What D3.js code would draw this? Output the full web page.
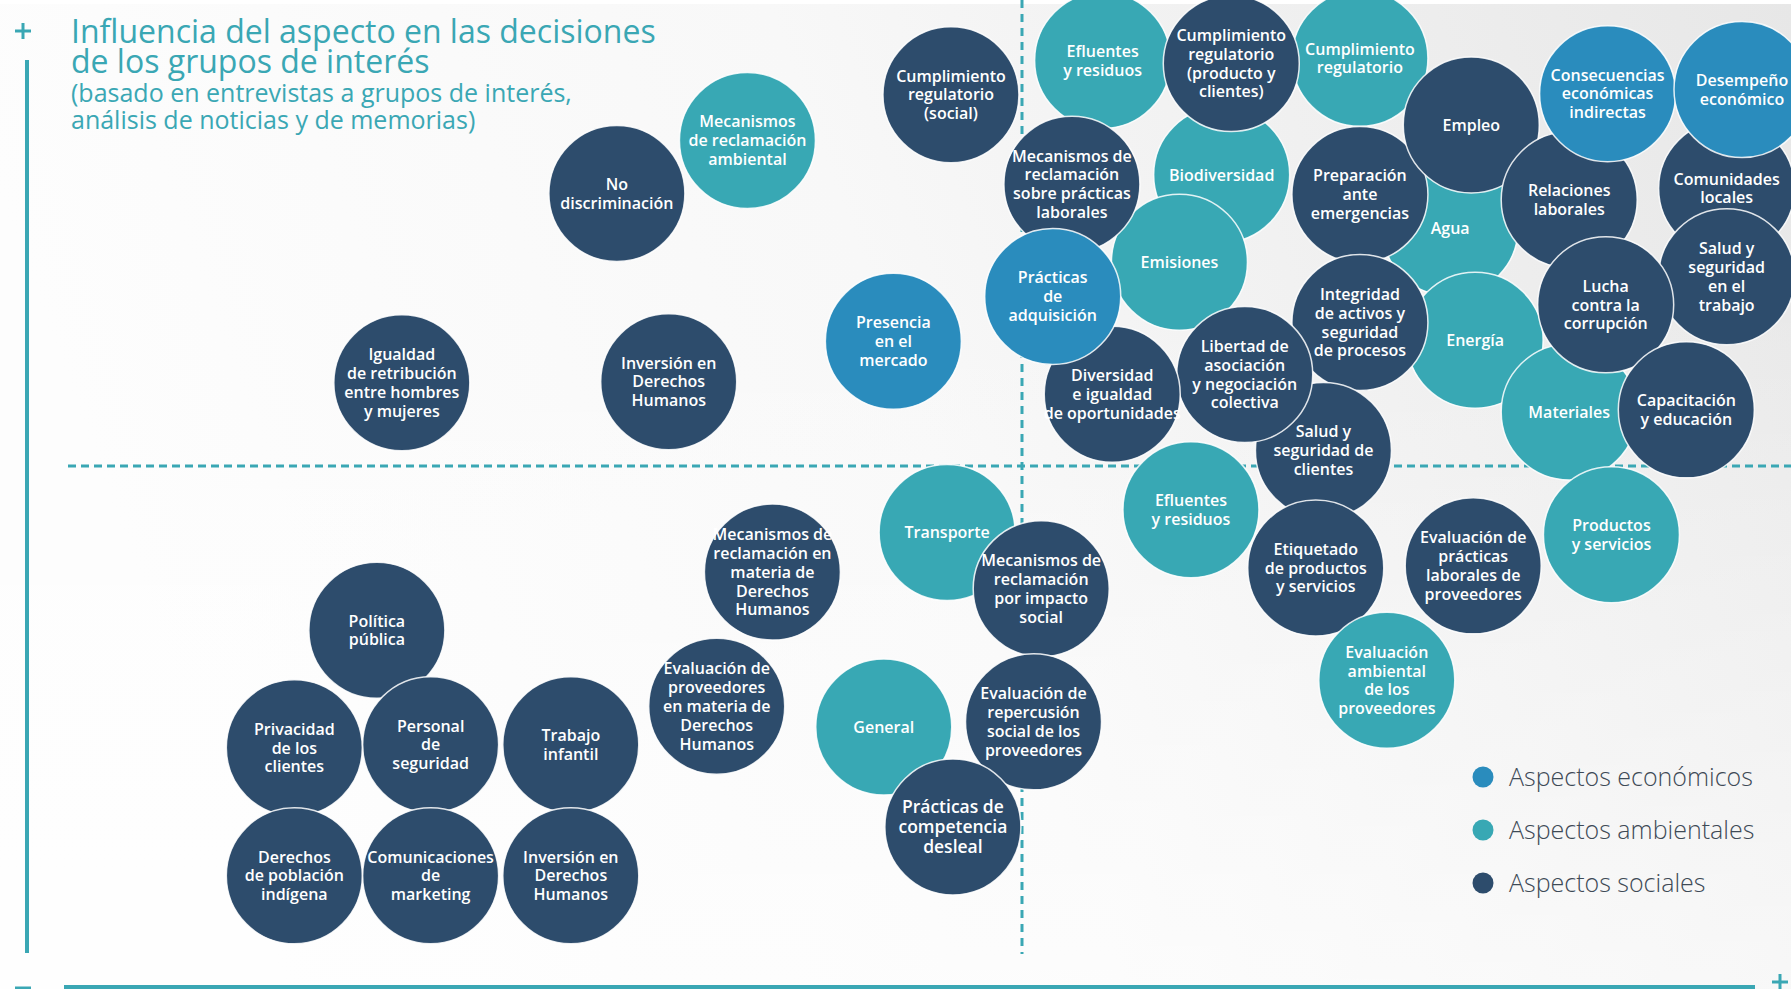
<!DOCTYPE html>
<html>
<head>
<meta charset="utf-8">
<script src="https://d3js.org/d3.v7.min.js"></script>
<style>
  body { margin: 0; background: #fff; }
  svg { display: block; font-family: "Open Sans", "Noto Sans", sans-serif; }
</style>
</head>
<body>
<svg id="chart" width="1791" height="989"></svg>
<script>
// aspects, drawn in this order (later ones sit on top)
var labels = [
  "Mecanismos|de reclamación|ambiental", "Efluentes|y residuos", "Cumplimiento|regulatorio",
  "Biodiversidad", "Emisiones", "Agua", "Energía", "Materiales", "Productos|y servicios",
  "Efluentes|y residuos", "Transporte", "General",
  "No|discriminación", "Cumplimiento|regulatorio|(social)", "Cumplimiento|regulatorio|(producto y|clientes)",
  "Mecanismos de|reclamación|sobre prácticas|laborales", "Preparación|ante|emergencias", "Empleo",
  "Relaciones|laborales", "Comunidades|locales", "Salud y|seguridad|en el|trabajo",
  "Lucha|contra la|corrupción", "Capacitación|y educación",
  "Integridad|de activos y|seguridad|de procesos", "Salud y|seguridad de|clientes",
  "Libertad de|asociación|y negociación|colectiva", "Diversidad|e igualdad|de oportunidades",
  "Igualdad|de retribución|entre hombres|y mujeres", "Inversión en|Derechos|Humanos",
  "Mecanismos de|reclamación en|materia de|Derechos|Humanos", "Mecanismos de|reclamación|por impacto|social",
  "Etiquetado|de productos|y servicios", "Evaluación de|prácticas|laborales de|proveedores",
  "Evaluación de|repercusión|social de los|proveedores", "Prácticas de|competencia|desleal",
  "Evaluación de|proveedores|en materia de|Derechos|Humanos", "Política|pública",
  "Privacidad|de los|clientes", "Personal|de|seguridad", "Trabajo|infantil",
  "Derechos|de población|indígena", "Comunicaciones|de|marketing", "Inversión en|Derechos|Humanos",
  "Presencia|en el|mercado", "Prácticas|de|adquisición", "Consecuencias|económicas|indirectas",
  "Desempeño|económico", "Evaluación|ambiental|de los|proveedores"
];
var groups = [
  "amb", "amb", "amb", "amb", "amb", "amb", "amb", "amb", "amb", "amb", "amb", "amb",
  "soc", "soc", "soc", "soc", "soc", "soc", "soc", "soc", "soc", "soc", "soc", "soc", "soc",
  "soc", "soc", "soc", "soc", "soc", "soc", "soc", "soc", "soc", "soc", "soc", "soc",
  "soc", "soc", "soc", "soc", "soc", "soc",
  "eco", "eco", "eco", "eco", "amb"
];
// importancia para la compañía (x) e influencia en los grupos de interés (y), 0-100
var importancia = [
  35.7, 54.2, 67.6, 60.4, 58.2, 72.3, 73.6, 78.5, 80.7, 58.8, 46.1, 42.8,
  28.9, 46.3, 60.9, 52.6, 67.6, 73.4, 78.5, 86.7, 86.7, 80.4, 84.6, 67.6, 65.7,
  61.6, 54.7, 17.7, 31.6, 37.0, 51.0, 65.3, 73.5, 50.6, 46.4, 34.1, 16.4,
  12.1, 19.2, 26.5, 12.1, 19.2, 26.5,
  43.3, 51.6, 80.5, 87.5, 69.0
];
var influencia = [
  81.3, 89.0, 89.2, 78.0, 69.6, 72.9, 62.1, 55.2, 43.4, 45.8, 43.6, 24.9,
  76.2, 85.7, 88.7, 77.1, 76.1, 82.8, 75.6, 76.7, 68.2, 65.5, 55.4, 63.8, 51.5,
  58.8, 56.9, 58.0, 58.1, 39.8, 38.2, 40.2, 40.4, 25.4, 15.3, 26.9, 34.2,
  22.9, 23.2, 23.2, 10.6, 10.6, 10.6,
  62.0, 66.3, 85.8, 86.2, 29.4
];
var legendKeys = ["eco", "amb", "soc"];
var legendNames = ["Aspectos económicos", "Aspectos ambientales", "Aspectos sociales"];

var teal = "#3aa7b4";
var color = d3.scaleOrdinal().domain(legendKeys).range(["#2a8cbd", "#38a8b4", "#2d4c6c"]);

var svg = d3.select("#chart");
var W = 1791, H = 989;

var x = d3.scaleLinear().domain([0, 100]).range([62, 1982]);
var y = d3.scaleLinear().domain([0, 100]).range([986, -54]);
var r = 68;

// background
var defs = svg.append("defs");
var bg = defs.append("linearGradient").attr("id", "bg")
  .attr("x1", 0).attr("y1", 0.2).attr("x2", 1).attr("y2", 0);
bg.append("stop").attr("offset", 0).attr("stop-color", "#fdfdfd");
bg.append("stop").attr("offset", 0.45).attr("stop-color", "#f8f8f8");
bg.append("stop").attr("offset", 1).attr("stop-color", "#e7e7e7");
var fade = defs.append("linearGradient").attr("id", "fade")
  .attr("x1", 0).attr("y1", 0).attr("x2", 0).attr("y2", 1);
fade.append("stop").attr("offset", 0.3).attr("stop-color", "#fff").attr("stop-opacity", 0);
fade.append("stop").attr("offset", 1).attr("stop-color", "#fff").attr("stop-opacity", 0.6);
svg.append("rect").attr("width", W).attr("height", H).attr("fill", "url(#bg)");
svg.append("rect").attr("width", W).attr("height", H).attr("fill", "url(#fade)");
svg.append("rect").attr("width", W).attr("height", 4).attr("fill", "#fff");

// quadrant dividers
svg.append("line")
  .attr("x1", 68).attr("x2", W).attr("y1", y(50)).attr("y2", y(50))
  .attr("stroke", teal).attr("stroke-width", 3).attr("stroke-dasharray", "8 5");
svg.append("line")
  .attr("x1", x(50)).attr("x2", x(50)).attr("y1", 0).attr("y2", 954)
  .attr("stroke", teal).attr("stroke-width", 3).attr("stroke-dasharray", "8 6");

// axes
svg.append("line").attr("x1", 27).attr("x2", 27).attr("y1", 60).attr("y2", 953)
  .attr("stroke", teal).attr("stroke-width", 4);
svg.append("line").attr("x1", 64).attr("x2", 1755).attr("y1", 987).attr("y2", 987)
  .attr("stroke", teal).attr("stroke-width", 4);
function plus(cx, cy) {
  svg.append("path").attr("d", "M" + (cx - 8) + "," + cy + "H" + (cx + 8) + "M" + cx + "," + (cy - 8) + "V" + (cy + 8))
    .attr("stroke", teal).attr("stroke-width", 3);
}
plus(23, 31);
plus(1780, 982);
svg.append("path").attr("d", "M15,988H31").attr("stroke", teal).attr("stroke-width", 3);

// title
var title = svg.append("text").attr("fill", teal).attr("font-weight", 400);
title.append("tspan").attr("x", 71).attr("y", 43).attr("font-size", 32).text("Influencia del aspecto en las decisiones");
title.append("tspan").attr("x", 71).attr("y", 73).attr("font-size", 32).text("de los grupos de interés");
title.append("tspan").attr("x", 71).attr("y", 102).attr("font-size", 25).text("(basado en entrevistas a grupos de interés,");
title.append("tspan").attr("x", 71).attr("y", 129).attr("font-size", 25).text("análisis de noticias y de memorias)");

// bubbles
var data = labels.map(function (l, i) {
  return { lines: l.split("|"), group: groups[i], x: importancia[i], y: influencia[i] };
});
// one label is set larger in the original
var bigLabel = "Prácticas de|competencia|desleal";
var node = svg.append("g").selectAll("g").data(data).join("g")
  .attr("transform", function (d) { return "translate(" + x(d.x) + "," + y(d.y) + ")"; });
node.append("circle").attr("r", r)
  .attr("fill", function (d) { return color(d.group); })
  .attr("stroke", "#fff").attr("stroke-opacity", 0.85).attr("stroke-width", 1.5);
node.append("text")
  .attr("text-anchor", "middle").attr("fill", "#fff")
  .attr("font-size", function (d) { return d.lines.join("|") === bigLabel ? 17.5 : 16; })
  .attr("font-weight", 600)
  .selectAll("tspan").data(function (d) {
    var lh = d.lines.join("|") === bigLabel ? 20 : 18.8;
    return d.lines.map(function (t, j) { return { t: t, j: j, n: d.lines.length, lh: lh }; });
  }).join("tspan")
  .attr("x", 0)
  .attr("y", function (d) { return (d.j - (d.n - 1) / 2) * d.lh + 5.7; })
  .text(function (d) { return d.t; });

// legend
var leg = svg.append("g").selectAll("g").data(legendKeys).join("g")
  .attr("transform", function (d, i) { return "translate(1483," + (777 + i * 53) + ")"; });
leg.append("circle").attr("r", 10.5).attr("fill", function (d) { return color(d); });
leg.append("text").attr("x", 26).attr("y", 9).attr("font-size", 25).attr("font-weight", 300)
  .attr("fill", "#3e4a56").text(function (d, i) { return legendNames[i]; });
</script>
</body>
</html>
